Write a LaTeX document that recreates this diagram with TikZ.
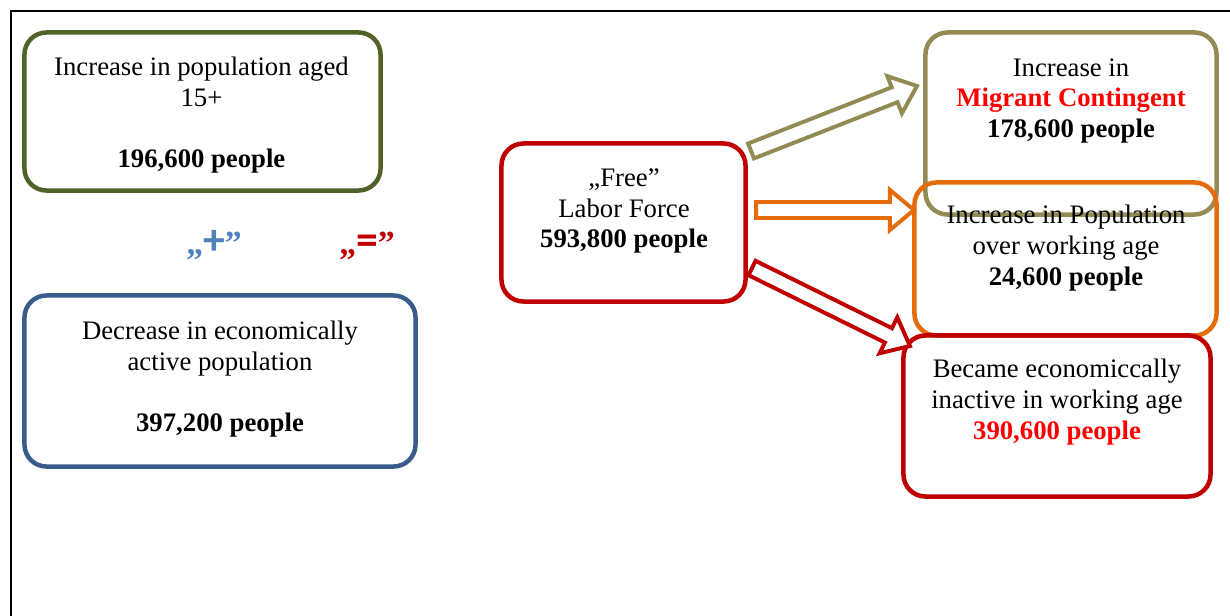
\documentclass[tikz,border=0pt]{standalone}
\usepackage{fontspec}
\setmainfont{Liberation Serif}
\newfontfamily\signfont{Carlito}
\usepackage{tikz}
\usetikzlibrary{calc}
\definecolor{fgreen}{HTML}{4F6228}
\definecolor{fblue}{HTML}{385D8A}
\definecolor{fplus}{HTML}{4F81BD}
\definecolor{fkhaki}{HTML}{948A54}
\definecolor{forange}{HTML}{E46C0A}
\definecolor{fred}{HTML}{C00000}
\definecolor{hired}{HTML}{FF0000}

\tikzset{
  box/.style={draw=#1,line width=3.2pt,rounded corners=0.55cm,inner sep=0pt},
  txt/.style={align=center,inner sep=0pt,font=\fontsize{19}{21.8}\selectfont},
  sign/.style={anchor=base,inner sep=0pt,font=\fontsize{24}{28}\selectfont\bfseries}
}
% hollow block arrow: colour, tail, tip
\newcommand{\blockarrow}[3]{%
  \coordinate (ba-s) at #2;
  \coordinate (ba-e) at #3;
  \coordinate (ba-c) at ($(ba-e)!0.6cm!(ba-s)$);
  \draw[#1,line width=2.8pt,line join=miter,fill=white]
    ($(ba-s)!0.2cm!90:(ba-e)$) -- ($(ba-c)!0.2cm!90:(ba-e)$)
    -- ($(ba-c)!0.5cm!90:(ba-e)$) -- (ba-e)
    -- ($(ba-c)!0.5cm!-90:(ba-e)$) -- ($(ba-c)!0.2cm!-90:(ba-e)$)
    -- ($(ba-s)!0.2cm!-90:(ba-e)$) -- cycle;
}

\begin{document}
\begin{tikzpicture}[x=0.025cm,y=-0.025cm]
\useasboundingbox (0,0) rectangle (1230,616);
\draw[line width=0.8pt] (11,616) -- (11,11) -- (1230,11);

% boxes
\node[box=fgreen,minimum width=8.9cm,minimum height=3.95cm] (incr) at (202.5,111.5) {};
\node[box=fblue,minimum width=9.775cm,minimum height=4.275cm] (decr) at (220,381) {};
\node[box=fred,minimum width=6.1cm,minimum height=3.95cm] (free) at (623.5,222.5) {};
\node[box=fkhaki,minimum width=7.275cm,minimum height=4.55cm] (migr) at (1071,123.5) {};
\node[box=forange,minimum width=7.55cm,minimum height=3.825cm] (over) at (1065.5,259) {};
\node[box=fred,minimum width=7.675cm,minimum height=4.025cm] (inact) at (1057,416) {};

% arrows out of the free labour force
\blockarrow{fkhaki}{($(free.north east)+(3.25,9.75)$)}{($(migr.west)+(-6.25,-37.5)$)}
\blockarrow{forange}{($(free.east)+(8.25,-12.5)$)}{($(over.west)+(1.75,-49)$)}
\blockarrow{fred}{($(free.south east)+(4.25,-35.75)$)}{($(inact.north west)+(8.75,12.75)$)}

% texts
\node[txt] (incr-t) at (201.5,115)
  {Increase in population aged\\15+\\[21.8pt]\textbf{196,600 people}};
\node[txt] (decr-t) at (220,379)
  {Decrease in economically\\active population\\[21.8pt]\textbf{397,200 people}};
\node[txt] (free-t) at (624,211)
  {„Free”\\Labor Force\\\textbf{593,800 people}};
\node[txt] (migr-t) at (1071,101)
  {Increase in\\\textcolor{hired}{\textbf{Migrant Contingent}}\\\textbf{178,600 people}};
\node[txt] (over-t) at (1066,248)
  {Increase in Population\\over working age\\\textbf{24,600 people}};
\node[txt] (inact-t) at (1057,402)
  {Became economiccally\\inactive in working age\\\textcolor{hired}{\textbf{390,600 people}}};

\node[sign,fplus] (plus) at (214,255) {„{\signfont\fontsize{31}{31}\selectfont+}”};
\node[sign,fred] (equal) at (367,255) {„{\signfont\fontsize{31}{31}\selectfont=}”};
\end{tikzpicture}
\end{document}
